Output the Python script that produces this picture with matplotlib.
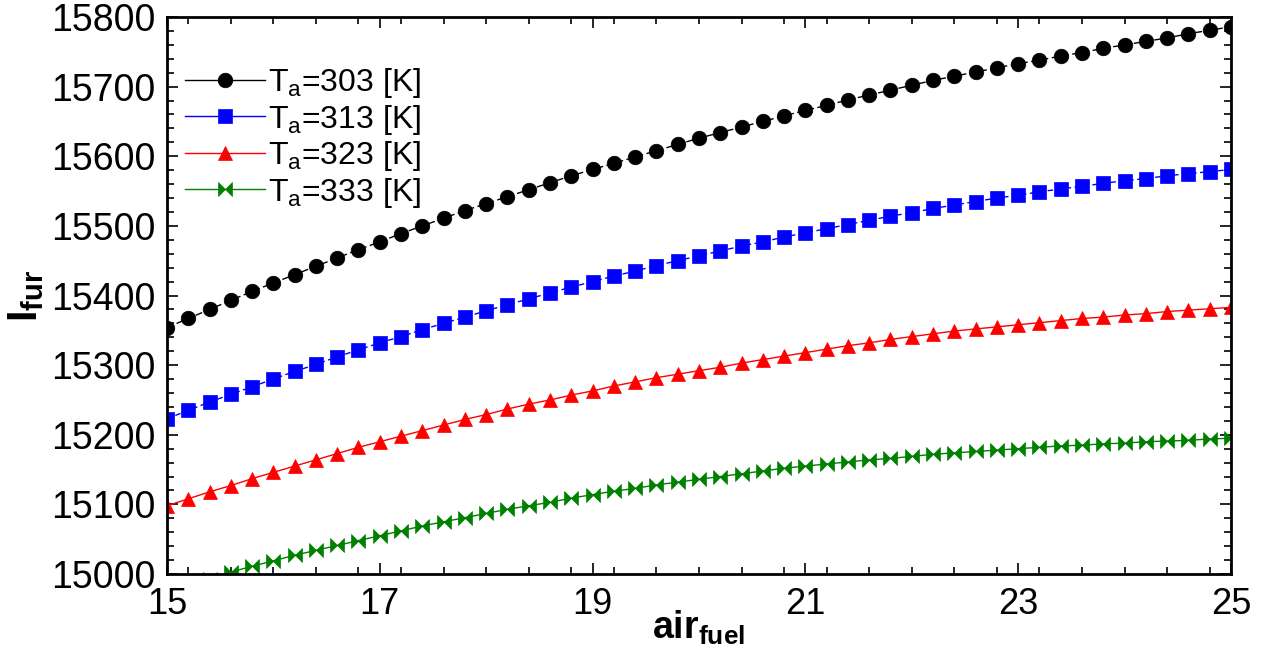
import numpy as np
import matplotlib
matplotlib.use("Agg")
import matplotlib.pyplot as plt
from matplotlib.path import Path
from matplotlib.lines import Line2D
from matplotlib.ticker import MultipleLocator
from matplotlib import font_manager

air_fuel = [15.0, 15.2, 15.4, 15.6, 15.8, 16.0, 16.2, 16.4, 16.6, 16.8,
            17.0, 17.2, 17.4, 17.6, 17.8, 18.0, 18.2, 18.4, 18.6, 18.8,
            19.0, 19.2, 19.4, 19.6, 19.8, 20.0, 20.2, 20.4, 20.6, 20.8,
            21.0, 21.2, 21.4, 21.6, 21.8, 22.0, 22.2, 22.4, 22.6, 22.8,
            23.0, 23.2, 23.4, 23.6, 23.8, 24.0, 24.2, 24.4, 24.6, 24.8, 25.0]

I_303 = [15354, 15367, 15380, 15393, 15406, 15418, 15430, 15442, 15454, 15466,
         15477, 15489, 15500, 15511, 15522, 15532, 15542, 15552, 15562, 15572,
         15581, 15590, 15599, 15608, 15617, 15626, 15634, 15642, 15650, 15658,
         15666, 15673, 15681, 15688, 15695, 15702, 15709, 15715, 15721, 15727,
         15733, 15738, 15744, 15749, 15755, 15760, 15765, 15770, 15776, 15781, 15786]

I_313 = [15223, 15235, 15247, 15258, 15269, 15280, 15291, 15301, 15312, 15322,
         15332, 15341, 15351, 15360, 15369, 15378, 15387, 15395, 15404, 15412,
         15420, 15428, 15435, 15443, 15450, 15457, 15464, 15471, 15477, 15484,
         15490, 15496, 15502, 15508, 15514, 15519, 15525, 15530, 15535, 15540,
         15544, 15549, 15553, 15557, 15561, 15565, 15568, 15572, 15575, 15578, 15581]

I_323 = [15098, 15108, 15118, 15127, 15137, 15146, 15155, 15164, 15173, 15182,
         15190, 15198, 15206, 15214, 15222, 15229, 15237, 15244, 15250, 15257,
         15263, 15270, 15276, 15282, 15287, 15292, 15297, 15303, 15308, 15313,
         15318, 15323, 15328, 15332, 15337, 15341, 15345, 15349, 15352, 15355,
         15358, 15361, 15364, 15367, 15369, 15372, 15374, 15377, 15379, 15381, 15383]

I_333 = [14978, 14986, 14993, 15003, 15011, 15019, 15027, 15034, 15041, 15048,
         15055, 15062, 15069, 15075, 15081, 15087, 15093, 15098, 15103, 15109,
         15114, 15119, 15123, 15128, 15132, 15136, 15140, 15144, 15148, 15152,
         15155, 15158, 15161, 15164, 15166, 15169, 15172, 15174, 15176, 15178,
         15180, 15182, 15184, 15185, 15187, 15188, 15190, 15191, 15192, 15194, 15195]

labels = [r"T$_\mathregular{a}$=303 [K]", r"T$_\mathregular{a}$=313 [K]",
          r"T$_\mathregular{a}$=323 [K]", r"T$_\mathregular{a}$=333 [K]"]

x_ticks = [15, 17, 19, 21, 23, 25]
y_ticks = [15000, 15100, 15200, 15300, 15400, 15500, 15600, 15700, 15800]

available = {f.name for f in font_manager.fontManager.ttflist}
narrow = "Liberation Sans Narrow" if "Liberation Sans Narrow" in available else "Liberation Sans"

plt.rcParams["font.family"] = ["Liberation Sans", "DejaVu Sans"]
plt.rcParams["mathtext.fontset"] = "custom"
plt.rcParams["mathtext.rm"] = "Liberation Sans"
plt.rcParams["mathtext.bf"] = "Liberation Sans:bold"
plt.rcParams["mathtext.it"] = "Liberation Sans:italic"

bowtie = Path([(-1, 1), (0, 0), (-1, -1), (-1, 1), (1, 1), (0, 0), (1, -1), (1, 1)],
              [Path.MOVETO, Path.LINETO, Path.LINETO, Path.CLOSEPOLY,
               Path.MOVETO, Path.LINETO, Path.LINETO, Path.CLOSEPOLY])

fig = plt.figure(figsize=(12.61, 6.52), dpi=100)
ax = fig.add_axes([0.1324, 0.1196, 0.8438, 0.8543])

series = [
    (I_303, "black", "o", 10.5, (0, (5, 2.5))),
    (I_313, "blue", "s", 9.5, (0, (4, 2.5))),
    (I_323, "red", "^", 10.5, "-"),
    (I_333, "green", bowtie, 10, "-"),
]
handles = []
for (yv, col, mk, ms, ls), lab in zip(series, labels):
    ax.plot(air_fuel, yv, color=col, marker=mk, markersize=ms, linestyle=ls,
            linewidth=1.0, markeredgewidth=0.5, markeredgecolor=col, clip_on=True)
    handles.append(Line2D([], [], color=col, marker=mk, markersize=ms, linestyle="-",
                          linewidth=1.0, markeredgecolor=col, markeredgewidth=0.5))

ax.set_xlim(15, 25)
ax.set_ylim(15000, 15800)
ax.set_xticks(x_ticks)
ax.set_yticks(y_ticks)
ax.xaxis.set_minor_locator(MultipleLocator(0.4))
ax.yaxis.set_minor_locator(MultipleLocator(20))
ax.tick_params(which="both", direction="in", top=True, right=True, width=1.2)
ax.tick_params(which="major", length=8)
ax.tick_params(which="minor", length=5)
ax.tick_params(axis="y", labelsize=27, pad=8)
ax.tick_params(axis="x", labelsize=26, pad=9)
for lbl in ax.get_xticklabels():
    lbl.set_family(narrow)
for sp in ax.spines.values():
    sp.set_linewidth(2)

ax.set_ylabel(r"$\mathbf{I_{fur}}$", fontsize=30, labelpad=4)
ax.set_xlabel(r"$\mathbf{air_{fuel}}$", fontsize=27, labelpad=-9)

leg = ax.legend(handles, labels, loc="upper left", bbox_to_anchor=(0.005, 0.935),
                frameon=False, fontsize=23, handlelength=2.5, handletextpad=0.1,
                labelspacing=0.08, borderaxespad=0.0)

fig.savefig("out.png", dpi=100)
